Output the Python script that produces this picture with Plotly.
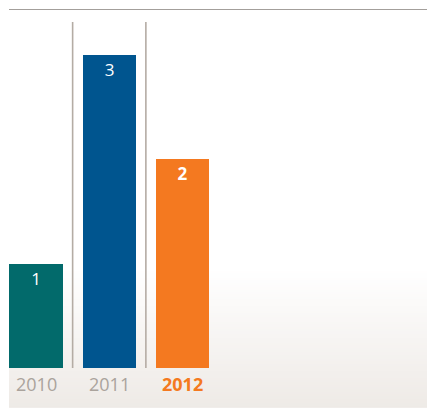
import plotly.graph_objects as go

years = ["2010", "2011", "2012"]
values = [1, 3, 2]
bar_colors = ["#026a6b", "#00558f", "#f47920"]
value_labels = ["1", "3", "<b>2</b>"]
year_labels = ["2010", "2011", "<b>2012</b>"]
year_colors = ["#aaa39c", "#aaa39c", "#f47920"]

W, H = 427, 408
xs = list(range(len(years)))
y_min, y_max = -0.3831, 3.5249
x_min, x_max = -0.4915, 5.338

# background gradient (decorative)
n = 60
y_lo, y_hi = y_min, 0.95
edges = [y_lo + (y_hi - y_lo) * i / n for i in range(n + 1)]
zvals = [[1 - (i + 0.5) / n] for i in range(n)]

fig = go.Figure()
fig.add_trace(go.Heatmap(
    x=[-0.3686, x_max + 0.1], y=edges, z=zvals,
    colorscale=[[0, "#ffffff"], [1, "#eeeae6"]], zmin=0, zmax=1,
    showscale=False, hoverinfo="skip",
))
fig.add_trace(go.Bar(
    x=xs, y=values, width=0.73,
    marker=dict(color=bar_colors, line=dict(width=0)),
    text=value_labels, textposition="inside", insidetextanchor="end",
    textfont=dict(color="white", size=17, family="Open Sans"),
    textangle=0, cliponaxis=False, showlegend=False,
))

for i, (lab, col) in enumerate(zip(year_labels, year_colors)):
    fig.add_annotation(x=xs[i], y=-0.151, text=lab, showarrow=False,
                       font=dict(color=col, size=18, family="Open Sans"),
                       xanchor="center", yanchor="middle")

for i in range(len(years) - 1):
    fig.add_shape(type="line", x0=xs[i] + 0.5, x1=xs[i] + 0.5, y0=0, y1=3.314,
                  line=dict(color="#b4aca4", width=1.6))

fig.add_shape(type="line", xref="paper", yref="paper", x0=9 / W, x1=1,
              y0=1 - 9.5 / H, y1=1 - 9.5 / H,
              line=dict(color="#a39f9b", width=1.2))

fig.update_layout(
    width=W, height=H, margin=dict(l=0, r=0, t=0, b=0),
    paper_bgcolor="white", plot_bgcolor="white",
    xaxis=dict(range=[x_min, x_max], visible=False, showgrid=False, zeroline=False),
    yaxis=dict(range=[y_min, y_max], visible=False, showgrid=False, zeroline=False),
    showlegend=False, bargap=0,
)
fig.write_html("out.html", config={"displayModeBar": False},
               post_script="document.body.style.margin='0';document.body.style.overflow='hidden';")
